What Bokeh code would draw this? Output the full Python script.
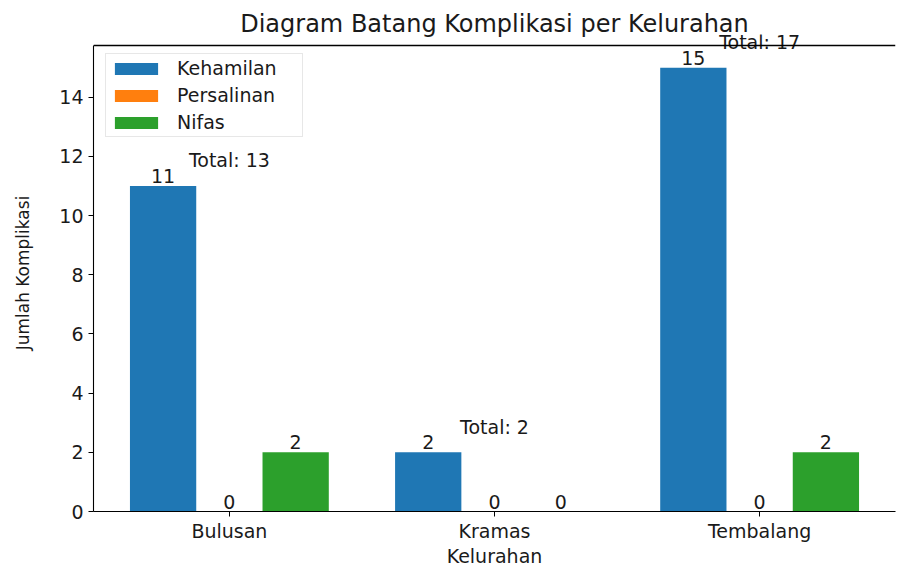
from bokeh.plotting import figure
from bokeh.models import (ColumnDataSource, FixedTicker, Range1d, Span, Legend,
                          LegendItem, LabelSet)
from bokeh.core.properties import value
from bokeh.embed import file_html
from bokeh.resources import INLINE

# ---- data ----
kelurahan = ["Bulusan", "Kramas", "Tembalang"]
kehamilan = [11, 2, 15]
persalinan = [0, 0, 0]
nifas = [2, 0, 2]
series_names = ["Kehamilan", "Persalinan", "Nifas"]
colors = ["#1f77b4", "#ff7f0e", "#2ca02c"]
y_ticks = [0, 2, 4, 6, 8, 10, 12, 14]

series = [kehamilan, persalinan, nifas]
totals = [sum(v) for v in zip(*series)]
bar_width = 0.25
idx = list(range(len(kelurahan)))

lo = -1.5 * bar_width
hi = (len(kelurahan) - 1) + 1.5 * bar_width
pad = 0.05 * (hi - lo)
ymax = max(max(s) for s in series) * 1.05

# layout: the drawing frame extends a little above the top spine so the
# "Total" labels may overflow it (as in the original)
FRAME_W, FRAME_H, TOP_PAD, BORDER_TOP = 802, 477, 11, 34
y_end = ymax * FRAME_H / (FRAME_H - TOP_PAD)

FONT = "DejaVu Sans"
TXT = "#1a1a1a"

p = figure(frame_width=FRAME_W, frame_height=FRAME_H, output_backend="svg",
           toolbar_location=None,
           x_range=Range1d(lo - pad, hi + pad), y_range=Range1d(0, y_end),
           min_border_left=93, min_border_right=1, min_border_top=BORDER_TOP,
           min_border_bottom=20,
           title="Diagram Batang Komplikasi per Kelurahan")
p.outline_line_color = None
p.xgrid.visible = False
p.ygrid.visible = False

p.title.text_font = FONT
p.title.text_font_size = "24px"
p.title.text_font_style = "normal"
p.title.text_color = TXT
p.title.align = "center"
p.title.standoff = -6

items = []
for k, (name, vals, col) in enumerate(zip(series_names, series, colors)):
    off = (k - 1) * bar_width
    src = ColumnDataSource(dict(x=[i + off for i in idx], top=vals,
                                lab=[str(v) for v in vals]))
    r = p.vbar(x="x", top="top", width=bar_width, source=src,
               fill_color=col, line_color=None)
    items.append(LegendItem(label=name, renderers=[r]))
    p.add_layout(LabelSet(x="x", y="top", text="lab", source=src,
                          text_align=value("center"), text_baseline=value("bottom"),
                          y_offset=value(3),
                          text_font=value(FONT), text_font_size=value("19px"),
                          text_color=value(TXT)))

group_max = [max(v) for v in zip(*series)]
tsrc = ColumnDataSource(dict(x=idx, y=[m + 0.5 for m in group_max],
                             lab=["Total: %d" % t for t in totals]))
p.add_layout(LabelSet(x="x", y="y", text="lab", source=tsrc,
                      text_align=value("center"), text_baseline=value("bottom"),
                      y_offset=value(0),
                      text_font=value(FONT), text_font_size=value("19px"),
                      text_color=value(TXT)))

# top spine at the data limit
p.add_layout(Span(location=ymax, dimension="width", line_color="black", line_width=1.3))

for ax in (p.xaxis[0], p.yaxis[0]):
    ax.axis_line_color = "black"
    ax.axis_line_width = 1.1
    ax.major_tick_out = 5
    ax.major_tick_in = 0
    ax.major_tick_line_color = "black"
    ax.minor_tick_line_color = None
    ax.major_label_text_font = FONT
    ax.major_label_text_font_size = "19px"
    ax.major_label_text_color = TXT
    ax.major_label_standoff = 5
    ax.axis_label_text_font = FONT
    ax.axis_label_text_font_style = "normal"
    ax.axis_label_text_color = TXT

p.xaxis.ticker = FixedTicker(ticks=idx)
p.xaxis.major_label_overrides = {i: n for i, n in zip(idx, kelurahan)}
p.xaxis.axis_label = "Kelurahan"
p.xaxis.axis_label_text_font_size = "19px"
p.xaxis.axis_label_standoff = 0
p.xaxis.major_label_standoff = 3

p.yaxis.ticker = FixedTicker(ticks=y_ticks)
p.yaxis.bounds = (0, ymax)
p.yaxis.axis_label = "Jumlah Komplikasi"
p.yaxis.axis_label_text_font_size = "17px"
p.yaxis.axis_label_standoff = 23

legend = Legend(items=items, location=(12, FRAME_H - 19 - 84))
legend.label_text_font = FONT
legend.label_text_font_size = "19px"
legend.label_text_color = TXT
legend.glyph_width = 54
legend.glyph_height = 15
legend.label_height = 20
legend.label_width = 122
legend.spacing = 5
legend.padding = 3
legend.margin = 0
legend.label_standoff = 14
legend.border_line_color = "#d0d0d0"
legend.background_fill_alpha = 0.8
p.add_layout(legend)

open("out.html", "w").write(file_html(p, INLINE))
